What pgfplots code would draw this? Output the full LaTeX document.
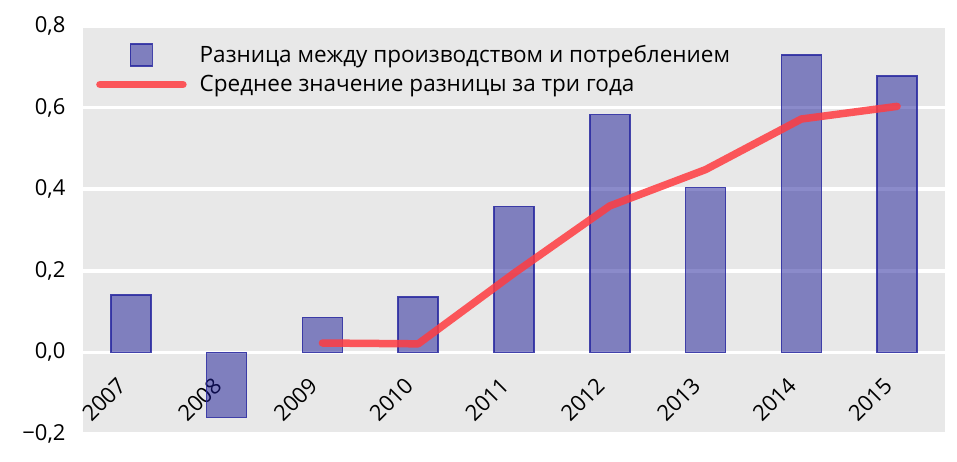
\documentclass[border=0pt]{standalone}
\usepackage{pgfplots}
\pgfplotsset{compat=1.18}
\usepackage{fontspec}
\setmainfont{Open Sans}
\definecolor{bg}{RGB}{232,232,232}
\definecolor{barfill}{RGB}{24,24,150}
\definecolor{baredge}{RGB}{40,40,160}
\definecolor{linered}{RGB}{255,60,65}
\pgfplotsset{
  barlegend/.style={legend image code/.code={\path[draw=none,fill=none] (0pt,0pt) -- (83pt,0pt);
    \draw[##1, bar width=0pt] (30.5pt,-11pt) rectangle (52.5pt,11pt);}},
  linelegend/.style={legend image code/.code={\draw[##1] (0pt,0pt) -- (83pt,0pt);}},
}
\begin{document}
\begin{tikzpicture}
\useasboundingbox (-83pt,-27pt) rectangle (874pt,434pt);
\begin{axis}[
  at={(0pt,0pt)}, anchor=south west,
  scale only axis,
  width=862pt, height=408pt,
  xmin=-0.5, xmax=8.5,
  ymin=-0.2, ymax=0.8,
  axis background/.style={fill=bg},
  axis line style={draw=none},
  major tick length=0pt,
  ymajorgrids,
  grid style={white, line width=3.5pt},
  xtick={0,1,2,3,4,5,6,7,8},
  xticklabels={2007,2008,2009,2010,2011,2012,2013,2014,2015},
  ytick={-0.2,0,0.2,0.4,0.6,0.8},
  yticklabels={{−0,2},{0,0},{0,2},{0,4},{0,6},{0,8}},
  ticklabel style={font=\fontsize{22}{26}\selectfont},
  yticklabel style={xshift=-14pt},
  xticklabel style={yshift=63pt, xshift=-15pt, rotate=45, anchor=north east},
  legend style={at={(0,1)}, anchor=north west, draw=none, fill=none,
    font=\fontsize{22.5}{26}\selectfont, row sep=7pt, column sep=11pt,
    xshift=10pt, yshift=-15pt},
  legend cell align=left,
]
\addplot[ybar, bar width=40pt, bar shift=0pt,
  fill=barfill, fill opacity=0.5, draw=baredge, draw opacity=0.85, line width=1.5pt,
  barlegend]
  coordinates {(0,0.141) (1,-0.159) (2,0.086) (3,0.136) (4,0.358) (5,0.583) (6,0.404) (7,0.729) (8,0.677)};
\addlegendentry{Разница между производством и потреблением}
\addplot[linered, opacity=0.85, line width=7.5pt, line cap=round, line join=round,
  linelegend]
  coordinates {(2,0.023) (3,0.021) (4,0.194) (5,0.359) (6,0.448) (7,0.572) (8,0.603)};
\addlegendentry{Среднее значение разницы за три года}
\end{axis}
\end{tikzpicture}
\end{document}
